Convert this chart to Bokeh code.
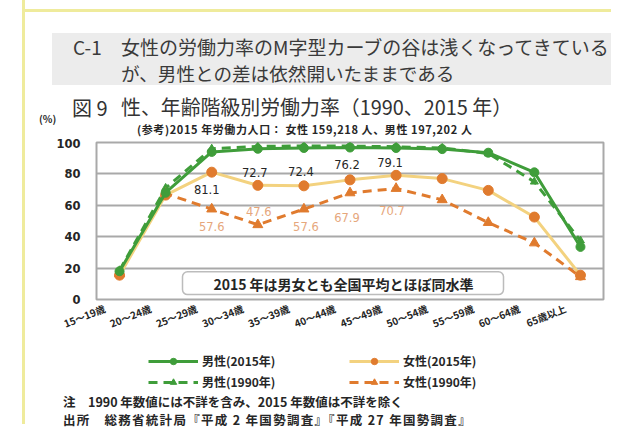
from bokeh.plotting import figure
from bokeh.layouts import column
from bokeh.models import (Range1d, FixedTicker, Label, BoxAnnotation,
                          Legend, LegendItem, LinearAxis, LinearScale, Div)
from bokeh.embed import file_html
from bokeh.resources import INLINE

# ---------------- data ----------------
categories = ["15～19歳", "20～24歳", "25～29歳", "30～34歳", "35～39歳", "40～44歳",
              "45～49歳", "50～54歳", "55～59歳", "60～64歳", "65歳以上"]
male_2015 = [18.0, 68.0, 94.0, 96.0, 96.5, 96.8, 96.5, 95.8, 93.5, 81.0, 33.5]
male_1990 = [18.5, 71.0, 96.0, 97.5, 97.8, 97.7, 97.3, 96.5, 93.0, 75.0, 37.5]
female_2015 = [15.5, 66.5, 81.1, 72.7, 72.4, 76.2, 79.1, 77.0, 69.5, 52.5, 15.5]
female_1990 = [16.5, 67.5, 57.6, 47.6, 57.6, 67.9, 70.7, 63.5, 49.0, 36.0, 14.5]
y_ticks = [0, 20, 40, 60, 80, 100]
f2015_labelled = [2, 3, 4, 5, 6]
f1990_labelled = [2, 3, 4, 5, 6]

header_no = "C-1"
header_lines = ["女性の労働力率のM字型カーブの谷は浅くなってきている",
                "が、男性との差は依然開いたままである"]
fig_no = "図 9"
fig_title = "性、年齢階級別労働力率（1990、2015 年）"
y_unit = "(%)"
ref_note = "(参考)2015 年労働力人口： 女性  159,218 人、男性  197,202 人"
box_note = "2015 年は男女とも全国平均とほぼ同水準"
note1 = "注　1990 年数値には不詳を含み、2015 年数値は不詳を除く"
note2 = "出所　総務省統計局『平成 2 年国勢調査』『平成 27 年国勢調査』"
legend_labels = ["男性(2015年)", "男性(1990年)", "女性(2015年)", "女性(1990年)"]

# ---------------- styles ----------------
JP = "Noto Sans CJK JP"
GREEN = "#3f9d3a"
ORANGE = "#e07b2e"
PALE = "#f3d27f"
GRID = "#a9a9a9"
TXT = "#262626"
YEL = "#efeb9c"

W = 611
HEAD_H = 138          # header div: 0..138
FIG_H = 202           # chart figure: 138..340
LEG_H = 52            # legend figure: 340..392
NOTE_H = 424 - HEAD_H - FIG_H - LEG_H
FL, FR = 96, 603      # frame left/right (page px)
FT, FB = 142, 301     # frame top/bottom (page px)

ncat = len(categories)
xpos = [i + 0.5 for i in range(ncat)]   # category centres on the x scale

p = figure(width=W, height=FIG_H, output_backend="svg", toolbar_location=None,
           x_range=Range1d(0, ncat), y_range=Range1d(0, 100), x_axis_location=None,
           min_border_left=FL, min_border_right=W - FR,
           min_border_top=FT - HEAD_H, min_border_bottom=HEAD_H + FIG_H - FB)
p.background_fill_color = "white"
p.border_fill_color = None
p.outline_line_color = GRID
p.outline_line_width = 2

def xd(px):   # page x -> data x
    return (px - FL) / (FR - FL) * ncat
def yd(py):   # page y -> data y
    return (FB - py) / (FB - FT) * 100

# y axis
p.yaxis.ticker = FixedTicker(ticks=y_ticks)
p.yaxis.axis_line_color = None
p.yaxis.major_tick_line_color = None
p.yaxis.major_tick_out = 0
p.yaxis.minor_tick_line_color = None
p.yaxis.minor_tick_out = 0
p.yaxis.major_label_text_font = "DejaVu Sans"
p.yaxis.major_label_text_font_style = "bold"
p.yaxis.major_label_text_font_size = "11.5px"
p.yaxis.major_label_text_color = TXT
p.yaxis.major_label_standoff = 16
p.xgrid.grid_line_color = None
p.ygrid.grid_line_color = GRID
p.ygrid.grid_line_width = 2

# category axis, its labels set slightly left of each category (as in the source)
shift = 15 / ((FR - FL) / ncat)
p.extra_x_ranges = {"lab": Range1d(shift, ncat + shift)}
p.extra_x_scales = {"lab": LinearScale()}
xax = LinearAxis(x_range_name="lab", ticker=FixedTicker(ticks=xpos),
                 major_label_overrides={x: c for x, c in zip(xpos, categories)})
xax.axis_line_color = None
xax.major_tick_line_color = None
xax.major_tick_out = 0
xax.minor_tick_line_color = None
xax.minor_tick_out = 0
xax.major_label_orientation = 0.38
xax.major_label_text_font = JP
xax.major_label_text_font_style = "bold"
xax.major_label_text_font_size = "10px"
xax.major_label_text_color = TXT
xax.major_label_standoff = 8
p.add_layout(xax, "below")

# note box inside the plot
p.add_layout(BoxAnnotation(left=xd(182), right=xd(503), top=yd(273), bottom=yd(296),
                           fill_color="white", fill_alpha=1, line_color="#222222",
                           line_width=1.5, border_radius=5))
p.add_layout(Label(x=xd(343), y=yd(285), text=box_note, text_align="center",
                   text_baseline="middle", text_font=JP, text_font_style="bold",
                   text_font_size="14px", text_color=TXT))

# series
STY = {
    "m90": dict(line_color=GREEN, line_width=3, line_dash="9 6"),
    "f90": dict(line_color=ORANGE, line_width=3, line_dash="9 6"),
    "f15": dict(line_color=PALE, line_width=3),
    "m15": dict(line_color=GREEN, line_width=3),
}
MK = {
    "m90": dict(marker="triangle", size=8, color=GREEN),
    "f90": dict(marker="triangle", size=10, color=ORANGE),
    "f15": dict(marker="circle", size=10, color=ORANGE),
    "m15": dict(marker="circle", size=9, color=GREEN),
}
series = {"m90": male_1990, "f90": female_1990, "f15": female_2015, "m15": male_2015}
for key, vals in series.items():
    p.line(xpos, vals, **STY[key])
    p.scatter(xpos, vals, **MK[key])

# data labels
f15_off = {2: (-5, -17), 3: (-3, 13), 4: (-3, 14), 5: (-3, 15), 6: (-6, 13)}
f90_off = {2: (0, -17), 3: (1, 13), 4: (2, -17), 5: (-3, -25), 6: (-4, -22)}
for i in f2015_labelled:
    dx, dy = f15_off[i]
    p.add_layout(Label(x=xpos[i], y=female_2015[i], x_offset=dx, y_offset=dy,
                       text=f"{female_2015[i]:.1f}", text_align="center",
                       text_baseline="middle", text_font="DejaVu Sans",
                       text_font_size="11.5px", text_color=TXT))
for i in f1990_labelled:
    dx, dy = f90_off[i]
    p.add_layout(Label(x=xpos[i], y=female_1990[i], x_offset=dx, y_offset=dy,
                       text=f"{female_1990[i]:.1f}", text_align="center",
                       text_baseline="middle", text_font="DejaVu Sans",
                       text_font_size="11.5px", text_color="#e6a77c"))

# ---------------- legend strip (own small figure, legend inside its frame) ----------------
# the same series are drawn here outside the visible y-range, only to key the legend
lg = figure(width=W, height=LEG_H, output_backend="svg", toolbar_location=None,
            x_range=Range1d(0, ncat), y_range=Range1d(-20, -10),
            x_axis_location=None, y_axis_location=None,
            min_border=0, min_border_left=0, min_border_right=0,
            min_border_top=0, min_border_bottom=0)
lg.outline_line_color = None
lg.background_fill_color = None
lg.border_fill_color = None
lg.grid.grid_line_color = None
rend = {}
for key in ["m15", "m90", "f15", "f90"]:
    rend[key] = [lg.line(xpos, series[key], **STY[key]),
                 lg.scatter(xpos, series[key], **MK[key])]
legend = Legend(items=[LegendItem(label=legend_labels[0], renderers=rend["m15"]),
                       LegendItem(label=legend_labels[1], renderers=rend["m90"]),
                       LegendItem(label=legend_labels[2], renderers=rend["f15"]),
                       LegendItem(label=legend_labels[3], renderers=rend["f90"])],
                location=(148 - FL, 2), orientation="vertical", ncols=2,
                glyph_width=50, glyph_height=16, spacing=4, padding=0, margin=0,
                label_standoff=4, label_width=143, label_height=16,
                background_fill_alpha=0, border_line_color=None,
                label_text_font=JP, label_text_font_style="bold",
                label_text_font_size="12px", label_text_color=TXT)
lg.add_layout(legend)

# ---------------- header / notes (HTML) ----------------
def span(text, x, y, size, color="#3a3a3a", bold=False, ls=0):
    return (f'<span style="position:absolute;left:{x}px;top:{y}px;transform:translateY(-50%);'
            f'white-space:nowrap;line-height:1.15;font-family:\'{JP}\';font-size:{size}px;'
            f'letter-spacing:{ls}px;'
            f'font-weight:{"bold" if bold else "normal"};color:{color}">{text}</span>')

def vline(h):
    return (f'<div style="position:absolute;left:22px;top:0px;width:3px;height:{h}px;'
            f'background:{YEL}"></div>')

head_html = (f'<div style="position:relative;width:{W}px;height:{HEAD_H}px;overflow:visible">'
             f'<div style="position:absolute;left:22px;top:9px;width:{W - 22}px;height:3px;'
             f'background:{YEL}"></div>'
             f'<div style="position:absolute;left:22px;top:9px;width:3px;height:{HEAD_H - 9}px;'
             f'background:{YEL}"></div>'
             f'<div style="position:absolute;left:52px;top:33px;width:{W - 52}px;height:52px;'
             f'background:#ececec"></div>'
             + span(header_no, 73, 47, 19)
             + span(header_lines[0], 121, 47, 19)
             + span(header_lines[1], 121, 73, 18.6)
             + span(fig_no, 72, 107, 20, "#333333")
             + span(fig_title, 121, 107, 19.9, "#333333")
             + span(y_unit, 39, 119, 10, TXT, True)
             + span(ref_note, 137, 129, 11, TXT, True, 0.6)
             + '</div>')
head = Div(text=head_html, width=W, height=HEAD_H, margin=0)

top0 = HEAD_H + FIG_H + LEG_H
note_html = (f'<div style="position:relative;width:{W}px;height:{NOTE_H}px;overflow:visible">'
             + vline(NOTE_H)
             + span(note1, 63, 402 - top0, 12.5, TXT, True)
             + span(note2, 63, 420 - top0, 12.5, TXT, True, 1.3)
             + '</div>')
notes = Div(text=note_html, width=W, height=NOTE_H, margin=0)

page = column(head, p, lg, notes, spacing=0, width=W, height=424,
              styles={"background-color": "white",
                      "background-image": f"linear-gradient(to right, transparent 22px, {YEL} 22px, {YEL} 25px, transparent 25px)",
                      "background-repeat": "no-repeat"})

open("out.html", "w").write(file_html(page, INLINE))
